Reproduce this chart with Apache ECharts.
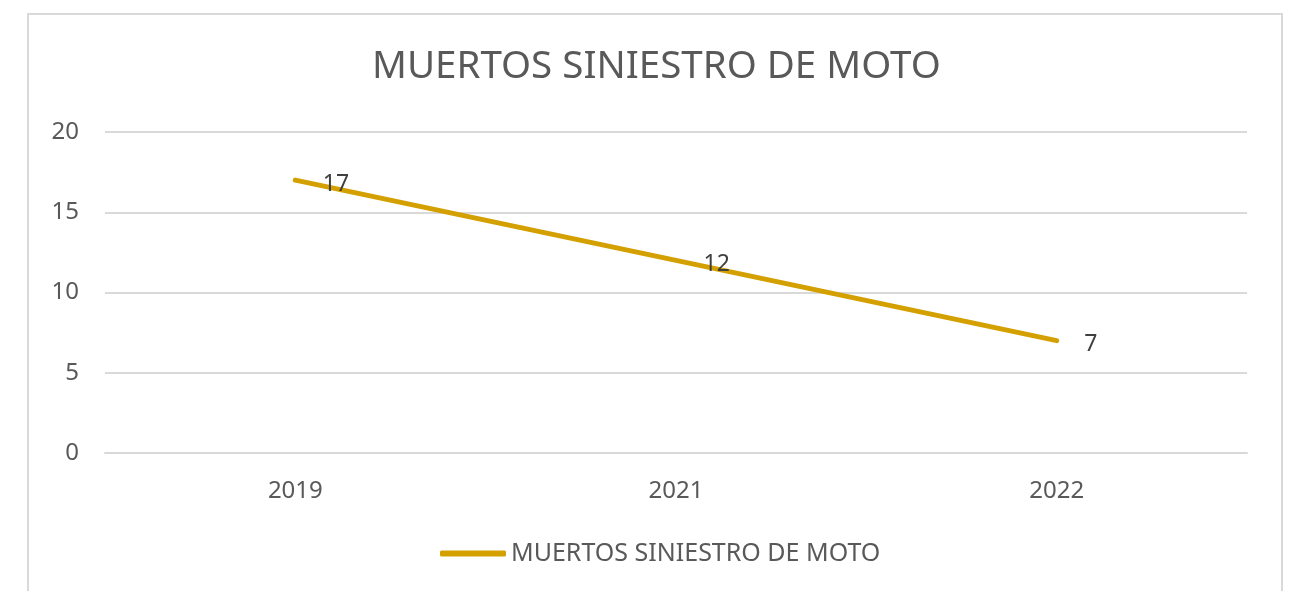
<!DOCTYPE html>
<html>
<head>
<meta charset="utf-8">
<script src="https://cdn.jsdelivr.net/npm/echarts@6/dist/echarts.min.js"></script>
<style>
html,body{margin:0;padding:0;background:#fff;}
#chart{width:1290px;height:591px;}
</style>
</head>
<body>
<div id="chart"></div>
<script>
const titleText = 'MUERTOS SINIESTRO DE MOTO';
const seriesName = 'MUERTOS SINIESTRO DE MOTO';
const categories = ['2019', '2021', '2022'];
const values = [17, 12, 7];
const yTicks = [0, 5, 10, 15, 20];

const FONT = '"Noto Sans", "Open Sans", sans-serif';
const chart = echarts.init(document.getElementById('chart'));
chart.setOption({
  backgroundColor: '#ffffff',
  animation: false,
  graphic: [{
    type: 'rect',
    shape: { x: 28, y: 14, width: 1254, height: 620 },
    style: { fill: 'none', stroke: '#d9d9d9', lineWidth: 2 },
    silent: true
  }],
  title: {
    text: titleText,
    left: 372,
    top: 48,
    padding: 0,
    textStyle: { fontFamily: FONT, fontSize: 38.5, fontWeight: 'normal', color: '#595959' }
  },
  legend: {
    left: 440,
    top: 541,
    padding: 0,
    icon: 'roundRect',
    itemWidth: 66,
    itemHeight: 6,
    itemGap: 7,
    textStyle: { fontFamily: FONT, fontSize: 25, color: '#595959' },
    data: [seriesName]
  },
  grid: { left: 105, right: 43, top: 132, bottom: 138, containLabel: false },
  xAxis: {
    type: 'category',
    data: categories,
    boundaryGap: true,
    axisLine: { show: true, lineStyle: { color: '#d9d9d9', width: 2 } },
    axisTick: { show: false },
    axisLabel: { margin: 26, fontFamily: FONT, fontSize: 24, color: '#595959' }
  },
  yAxis: {
    type: 'value',
    min: yTicks[0],
    max: yTicks[yTicks.length - 1],
    interval: 5,
    axisLine: { show: false },
    axisTick: { show: false },
    splitLine: { lineStyle: { color: '#d9d9d9', width: 2 } },
    axisLabel: { margin: 26, fontFamily: FONT, fontSize: 24, color: '#595959' }
  },
  series: [{
    name: seriesName,
    type: 'line',
    data: values,
    symbol: 'circle',
    symbolSize: 1,
    showSymbol: true,
    lineStyle: { color: '#D4A000', width: 5, cap: 'round' },
    itemStyle: { color: '#D4A000' },
    label: {
      show: true,
      position: 'right',
      distance: 27,
      offset: [0, 4],
      fontFamily: FONT,
      fontSize: 23,
      color: '#404040'
    }
  }]
});
</script>
</body>
</html>
